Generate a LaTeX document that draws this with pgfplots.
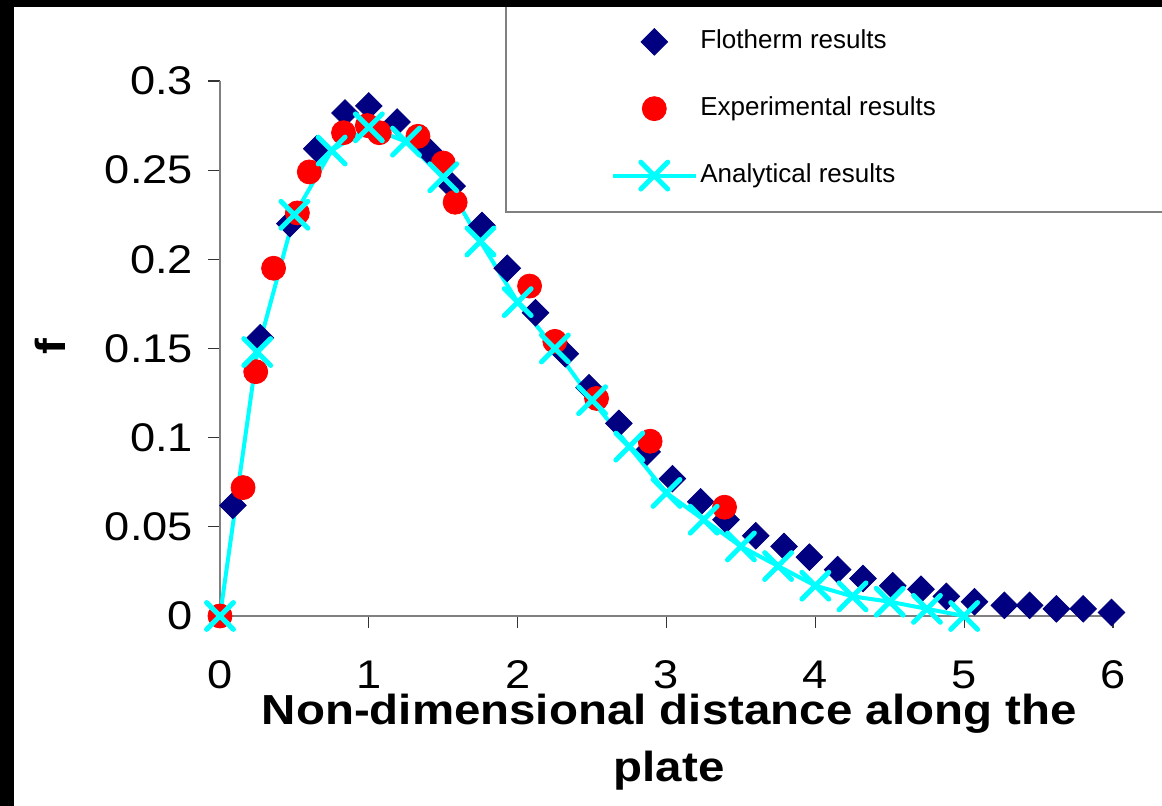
\documentclass[border=0pt]{standalone}
\usepackage{fontspec}
\setmainfont{Liberation Sans}[FakeStretch=1.13]
\newfontfamily\legfont{Liberation Sans}
\usepackage{pgfplots}
\pgfplotsset{compat=1.18}
\definecolor{flonavy}{RGB}{0,0,128}
\definecolor{axgray}{RGB}{128,128,128}
\definecolor{anacyan}{RGB}{0,255,255}
\definecolor{expred}{RGB}{255,0,0}

\begin{document}
\begin{tikzpicture}[x=1pt,y=1pt]
\fill[white] (0,0) rectangle (581,403);
% legend frame (runs off the right edge like the original)
\draw[axgray, line width=0.75pt, fill=white] (253,297) rectangle (600,410);

\begin{axis}[
    at={(110pt,95pt)}, anchor=south west,
    scale only axis, width=446.5pt, height=267.5pt,
    xmin=0, xmax=6, ymin=0, ymax=0.3,
    axis lines*=left,
    axis line style={axgray, line width=1pt, -},
    tick align=outside,
    major tick length=6pt,
    tick style={black!80, line width=0.6pt},
    xtick={0,1,2,3,4,5,6},
    ytick={0,0.05,0.1,0.15,0.2,0.25,0.3},
    yticklabels={0,0.05,0.1,0.15,0.2,0.25,0.3},
    scaled y ticks=false,
    /pgf/number format/assume math mode=true,
    tick label style={font=\fontsize{20}{23}\selectfont},
    xticklabel style={yshift=-13pt},
    yticklabel style={xshift=-4pt},
    xlabel={Non-dimensional distance along the\\plate},
    xlabel style={at={(axis description cs:0.503,0)}, anchor=north, yshift=-35.5pt,
        align=center, font=\bfseries\fontsize{21}{28.5}\selectfont},
    ylabel={f},
    ylabel style={at={(axis description cs:-0.1904,0.503)}, anchor=center,
        font=\bfseries\fontsize{21}{24}\selectfont},
    clip=false,
    legend style={draw=none, fill=none, inner sep=0pt, row sep=20.5pt, column sep=1.25pt,
        nodes={inner sep=0pt, text height=9.5pt, text depth=3pt},
        font=\legfont\fontsize{13}{15}\selectfont,
        at={(axis description cs:0.4372,0.948)}, anchor=west},
    legend cell align=left,
    myleg/.style={legend image code/.code={%
        \draw[mark repeat=2,mark phase=2,##1] plot coordinates {(0pt,0pt) (20.75pt,0pt) (41.5pt,0pt)};}},
    myleg,
]

\addplot[only marks, mark=square*, mark size=4.7pt, color=flonavy,
    mark options={rotate=45}, myleg] coordinates {
    (0.087,0.062) (0.27,0.156) (0.47,0.220) (0.65,0.262) (0.84,0.282)
    (1.00,0.286) (1.19,0.277) (1.40,0.261) (1.56,0.241) (1.76,0.219)
    (1.93,0.195) (2.12,0.170) (2.32,0.147) (2.48,0.128) (2.68,0.108)
    (2.87,0.092) (3.04,0.077) (3.23,0.064) (3.40,0.054) (3.60,0.045)
    (3.79,0.039) (3.96,0.033) (4.15,0.026) (4.32,0.021) (4.52,0.017)
    (4.71,0.015) (4.88,0.011) (5.07,0.008) (5.27,0.006) (5.44,0.006)
    (5.62,0.004) (5.80,0.004) (5.99,0.002)
};
\addlegendentry{Flotherm results}

\addplot[only marks, mark=*, mark size=6pt, color=expred, myleg] coordinates {
    (0,0) (0.155,0.072) (0.24,0.137) (0.36,0.195) (0.52,0.226)
    (0.60,0.249) (0.83,0.271) (0.99,0.275) (1.07,0.271) (1.33,0.269)
    (1.50,0.254) (1.58,0.232) (2.08,0.185) (2.25,0.154) (2.53,0.122)
    (2.89,0.098) (3.39,0.061)
};
\addlegendentry{Experimental results}

\addplot[anacyan, line width=2pt, mark=x, mark size=9.5pt,
    mark options={line width=2.5pt, line cap=round}, myleg] coordinates {
    (0,0) (0.25,0.148) (0.5,0.225) (0.75,0.261) (1.0,0.274)
    (1.25,0.266) (1.5,0.246) (1.75,0.210) (2.0,0.176) (2.25,0.150)
    (2.5,0.121) (2.75,0.095) (3.0,0.069) (3.25,0.054) (3.5,0.039)
    (3.75,0.028) (4.0,0.017) (4.25,0.011) (4.5,0.008) (4.75,0.004)
    (5.0,0.000)
};
\addlegendentry{Analytical results}
\end{axis}

% black frame at top and left
\fill[black] (0,399.5) rectangle (581,403);
\fill[black] (0,0) rectangle (7,403);
\pgfresetboundingbox
\useasboundingbox (0,0) rectangle (581,403);
\end{tikzpicture}
\end{document}
